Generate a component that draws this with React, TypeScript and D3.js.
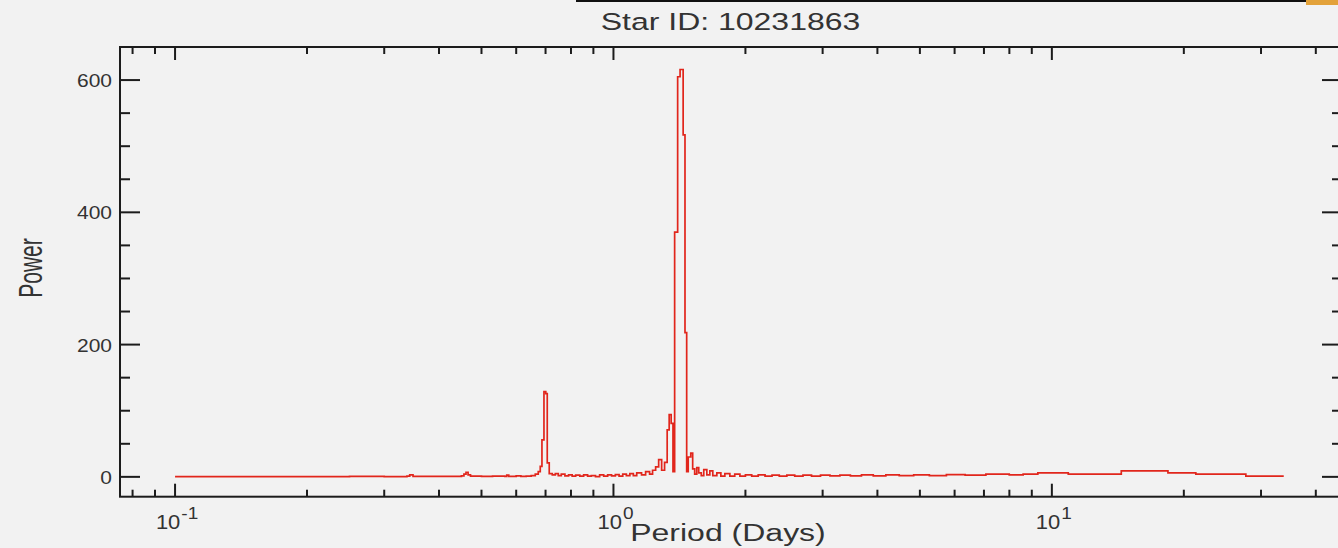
import React from "react";
import * as d3 from "d3";

// Periodogram of the star: period (days) vs power, drawn as a step trace
const periodDays = [
  0.1, 0.15, 0.2, 0.25, 0.3, 0.338, 0.343, 0.349, 0.38, 0.42, 0.45, 0.456, 0.461, 0.466, 0.472,
  0.5, 0.53, 0.565, 0.571, 0.577, 0.6, 0.615,
  0.6324, 0.6493, 0.6632, 0.6737, 0.6808, 0.6869, 0.6942, 0.7008, 0.7063, 0.7137, 0.7252,
  0.7368, 0.7484, 0.7604,
  0.775, 0.79, 0.805, 0.82, 0.838, 0.855, 0.873, 0.89, 0.91, 0.93, 0.95, 0.97, 0.99, 1.01,
  1.03, 1.05, 1.07, 1.09, 1.11, 1.13, 1.159, 1.184, 1.209, 1.228, 1.248, 1.268, 1.288,
  1.308, 1.326, 1.34, 1.354, 1.367, 1.379, 1.401, 1.419, 1.442, 1.456, 1.469, 1.481, 1.501,
  1.516, 1.532, 1.549, 1.565, 1.586, 1.607, 1.633, 1.659, 1.685, 1.721, 1.758, 1.795, 1.843,
  1.891, 1.943, 2.0, 2.067, 2.139, 2.217, 2.3, 2.389, 2.486, 2.591, 2.706, 2.83, 2.967, 3.118,
  3.285, 3.471, 3.679, 3.914, 4.181, 4.486, 4.84, 5.255, 5.747, 6.341, 7.072, 7.994, 8.6,
  9.29, 10.9, 14.4, 18.4, 21.3, 27.7, 33.8,
];

const power = [
  0.3, 0.5, 0.4, 0.6, 0.5, 1.2, 3, 0.8, 0.6, 0.8, 1.5, 4, 7, 3, 1,
  0.8, 1.2, 0.8, 2.5, 0.8, 1.5, 0.8,
  1, 2, 4, 8, 16, 56, 129, 126, 21, 5, 3,
  5, 2, 4,
  1.5, 3, 1, 2.5, 1, 3, 1, 2, 0.5, 3, 1, 3, 1.5, 3.5,
  1, 4, 2, 5, 2, 6, 3, 8, 4, 10, 15, 26, 10,
  22, 71, 94, 81, 8, 370, 605, 616, 517, 218, 8, 30, 36,
  12, 4, 14, 6, 2, 11, 3, 9, 2, 6, 1, 5, 1,
  4, 1, 3, 1, 3, 1, 2.5, 1, 2.5, 1, 2.5, 1, 2.5, 1.5,
  2.5, 1.5, 3, 1.5, 3, 2, 3, 2, 3.5, 2.5, 4, 3, 4,
  6, 4, 9, 6, 4, 1, 1,
];

const yMajorTicks = [0, 200, 400, 600];
const yMinorTicks = [50, 100, 150, 250, 300, 350, 450, 500, 550];
const xMajorTicks = [0.1, 1, 10];
const xMajorExponents = ["-1", "0", "1"];
const xMinorTicks = [
  0.08, 0.09, 0.2, 0.3, 0.4, 0.5, 0.6, 0.7, 0.8, 0.9, 2, 3, 4, 5, 6, 7, 8, 9, 20, 30, 40,
];

const W = 1338;
const H = 548;
const left = 120;
const right = 1342;
const top = 47;
const bottom = 496.7;

const axisColor = "#1c1c1c";
const labelColor = "#333";
const font = "'Liberation Sans', Arial, Helvetica, sans-serif";

export default function App() {
  const x = d3.scaleLog().domain([0.07489, 45.9]).range([left, right]);
  const y = d3.scaleLinear().domain([-30, 650]).range([bottom, top]);

  const pts = periodDays.map((p, i) => [p, power[i]] as [number, number]);
  const line = d3
    .line<[number, number]>()
    .x((d) => x(d[0]))
    .y((d) => y(d[1]))
    .curve(d3.curveStepAfter);

  return (
    <svg
      width={W}
      height={H}
      style={{ position: "absolute", left: 0, top: 0, display: "block" }}
    >
      <rect x={0} y={0} width={W} height={H} fill="#f2f2f2" />
      <rect x={576} y={0} width={730} height={2} fill="#111" />
      <rect x={1306} y={0} width={32} height={5} fill="#e3a23a" />

      {/* title */}
      <text
        transform={`translate(730.5,30) scale(1,0.74)`}
        textAnchor="middle"
        fontFamily={font}
        fontSize={32}
        fill={labelColor}
      >
        Star ID: 10231863
      </text>

      {/* data trace */}
      <path d={line(pts) || ""} fill="none" stroke="#e1261c" strokeWidth={1.7} />

      {/* frame */}
      <rect
        x={left}
        y={top}
        width={right - left}
        height={bottom - top}
        fill="none"
        stroke={axisColor}
        strokeWidth={2}
      />

      {/* y ticks, both sides */}
      {yMajorTicks.map((v) => (
        <g key={"ym" + v}>
          <line x1={left} x2={left + 20} y1={y(v)} y2={y(v)} stroke={axisColor} strokeWidth={2} />
          <line x1={right} x2={right - 20} y1={y(v)} y2={y(v)} stroke={axisColor} strokeWidth={2} />
          <text
            transform={`translate(112,${y(v) + 7}) scale(1,0.9)`}
            textAnchor="end"
            fontFamily={font}
            fontSize={21}
            fill={labelColor}
          >
            {v}
          </text>
        </g>
      ))}
      {yMinorTicks.map((v) => (
        <g key={"yn" + v}>
          <line x1={left} x2={left + 10} y1={y(v)} y2={y(v)} stroke={axisColor} strokeWidth={2} />
          <line x1={right} x2={right - 10} y1={y(v)} y2={y(v)} stroke={axisColor} strokeWidth={2} />
        </g>
      ))}

      {/* x ticks, bottom and top */}
      {xMajorTicks.map((v, i) => (
        <g key={"xm" + v}>
          <line x1={x(v)} x2={x(v)} y1={bottom} y2={bottom - 13} stroke={axisColor} strokeWidth={2} />
          <line x1={x(v)} x2={x(v)} y1={top} y2={top + 13} stroke={axisColor} strokeWidth={2} />
          <text
            transform={`translate(${x(v) + 2},529) scale(1,0.88)`}
            textAnchor="middle"
            fontFamily={font}
            fontSize={22}
            fill={labelColor}
          >
            <tspan>10</tspan>
            <tspan dx={1} dy={-11} fontSize={19}>
              {xMajorExponents[i]}
            </tspan>
          </text>
        </g>
      ))}
      {xMinorTicks.map((v) => (
        <g key={"xn" + v}>
          <line x1={x(v)} x2={x(v)} y1={bottom} y2={bottom - 7} stroke={axisColor} strokeWidth={2} />
          <line x1={x(v)} x2={x(v)} y1={top} y2={top + 7} stroke={axisColor} strokeWidth={2} />
        </g>
      ))}

      {/* axis titles */}
      <text
        transform={`translate(728,541) scale(1,0.72)`}
        textAnchor="middle"
        fontFamily={font}
        fontSize={32}
        fill={labelColor}
      >
        Period (Days)
      </text>
      <text
        transform={`translate(42,268) rotate(-90) scale(0.62,1)`}
        textAnchor="middle"
        fontFamily={font}
        fontSize={34}
        fill={labelColor}
      >
        Power
      </text>
    </svg>
  );
}
